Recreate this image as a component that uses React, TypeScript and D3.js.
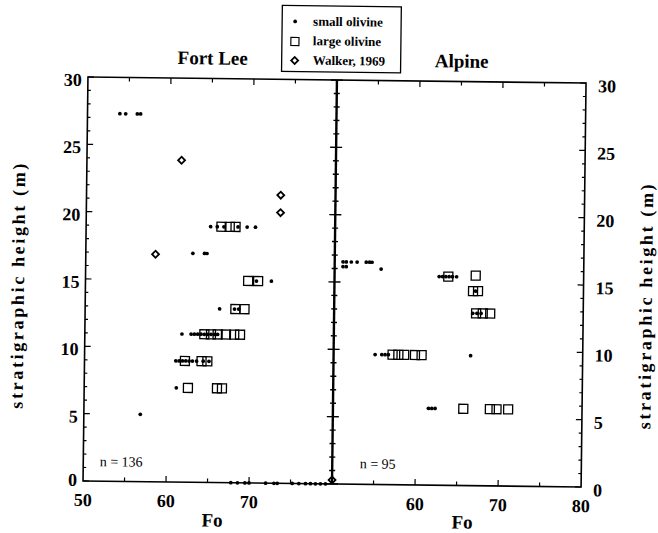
import React from "react";
import * as d3 from "d3";

// ---- data (Fo, stratigraphic height m) ----
const fortLeeSmall: [number, number][] = [
  [53.9, 27.3], [54.6, 27.3], [56.0, 27.3], [56.4, 27.3],
  [65.0, 19.0], [65.8, 19.0], [66.6, 19.0], [68.3, 19.0], [69.4, 19.0], [70.4, 19.0],
  [62.9, 17.0], [64.3, 17.0], [64.6, 17.0],
  [70.6, 15.0], [72.4, 15.0],
  [66.2, 12.9], [68.0, 12.9], [68.5, 12.9],
  [61.7, 11.0], [62.8, 11.0], [63.2, 11.0], [63.6, 11.0], [64.0, 11.0], [64.4, 11.0],
  [64.8, 11.0], [65.2, 11.0], [65.6, 11.0], [66.0, 11.0],
  [61.0, 9.0], [61.4, 9.0], [61.8, 9.0], [62.2, 9.0], [62.6, 9.0], [63.0, 9.0],
  [63.5, 9.0], [64.3, 9.0], [65.0, 9.0],
  [61.1, 7.0],
  [56.8, 5.0],
  [67.8, 0], [68.6, 0], [69.5, 0], [70.0, 0], [72.0, 0], [73.0, 0], [73.4, 0],
  [75.2, 0], [76.0, 0], [76.8, 0], [77.4, 0], [78.0, 0], [78.6, 0], [79.2, 0],
];
const fortLeeLarge: [number, number][] = [
  [66.3, 19.0], [67.3, 19.0], [68.0, 19.0],
  [69.6, 15.0], [70.8, 15.0],
  [68.1, 12.9], [69.2, 12.9],
  [64.4, 11.0], [65.2, 11.0], [66.0, 11.0], [67.0, 11.0], [68.0, 11.0], [68.7, 11.0],
  [62.1, 9.0], [64.1, 9.0], [64.8, 9.0],
  [62.5, 7.0], [66.0, 7.0], [66.6, 7.0],
];
const walker1969: [number, number][] = [
  [61.4, 23.9], [73.4, 21.4], [73.4, 20.1], [58.4, 16.9], [80.0, 0.3],
];
const alpineSmall: [number, number][] = [
  [51.0, 16.5], [51.4, 16.5], [52.0, 16.5], [52.7, 16.5], [53.8, 16.5], [54.2, 16.5], [54.5, 16.5],
  [51.0, 16.15], [51.4, 16.15], [55.6, 16.0],
  [62.6, 15.5], [63.0, 15.5], [63.4, 15.5], [63.8, 15.5], [64.2, 15.5], [64.7, 15.5],
  [67.0, 14.45],
  [66.7, 12.8], [67.2, 12.8], [67.7, 12.8],
  [55.0, 9.65], [55.8, 9.65], [56.2, 9.65], [56.6, 9.65], [66.5, 9.65],
  [61.5, 5.7], [61.9, 5.7], [62.3, 5.7],
];
const alpineLarge: [number, number][] = [
  [63.7, 15.5], [67.0, 15.6],
  [66.7, 14.45], [67.3, 14.45],
  [67.1, 12.8], [67.9, 12.8], [68.8, 12.8],
  [57.1, 9.65], [57.8, 9.65], [58.5, 9.65], [59.8, 9.65], [60.6, 9.65],
  [65.7, 5.7], [68.9, 5.7], [69.7, 5.7], [71.1, 5.7],
];

const panelTitles = ["Fort Lee", "Alpine"];
const sampleCounts = ["n = 136", "n = 95"];
const leftXTickLabels = [50, 60, 70];
const rightXTickLabels = [60, 70, 80];
const yTickLabels = [0, 5, 10, 15, 20, 25, 30];
const legendLabels = ["small olivine", "large olivine", "Walker, 1969"];
const yAxisTitle = "stratigraphic height (m)";

const SERIF = "'Liberation Serif', 'Times New Roman', serif";

export default function App() {
  const L = 85.5, M = 334.5, R = 583.6, T = 80, B = 484;
  const xL = d3.scaleLinear().domain([50, 80]).range([L, M]);
  const xR = d3.scaleLinear().domain([50, 80]).range([M, R]);
  const y = d3.scaleLinear().domain([0, 30]).range([B, T]);

  const sq = d3.symbol().type(d3.symbolSquare).size(81)()!;
  const dia = d3.symbol().type(d3.symbolSquare).size(24)()!;
  const dot = d3.symbol().type(d3.symbolCircle).size(11)()!;

  const yMinor = d3.range(0, 31);
  const xMinor = [55, 60, 65, 70, 75];

  const stroke = "#000";

  const dots = (data: [number, number][], x: d3.ScaleLinear<number, number>, k: string) =>
    data.map((d, i) => (
      <path key={k + i} d={dot} transform={`translate(${x(d[0])},${y(d[1])})`} fill="#000" />
    ));
  const squares = (data: [number, number][], x: d3.ScaleLinear<number, number>, k: string) =>
    data.map((d, i) => (
      <path key={k + i} d={sq} transform={`translate(${x(d[0])},${y(d[1])})`} fill="none" stroke={stroke} strokeWidth={1.3} />
    ));
  const diamonds = (data: [number, number][], x: d3.ScaleLinear<number, number>, k: string) =>
    data.map((d, i) => (
      <path key={k + i} d={dia} transform={`translate(${x(d[0])},${y(d[1])}) rotate(45)`} fill="none" stroke={stroke} strokeWidth={1.8} />
    ));

  return (
    <svg width={658} height={533} style={{ position: "absolute", left: 0, top: 0, background: "#fff" }}>
      <rect x={0} y={0} width={658} height={533} fill="#fff" />
      <g transform="rotate(0.7, 335, 280)">
        {/* frame */}
        <rect x={L} y={T} width={R - L} height={B - T} fill="none" stroke={stroke} strokeWidth={1.6} />
        <line x1={M} x2={M} y1={T} y2={B} stroke={stroke} strokeWidth={2.4} />

        {/* y ticks */}
        {yMinor.map((v) => {
          const len = v % 5 === 0 ? 6 : 3;
          const yy = y(v);
          return (
            <g key={"yt" + v}>
              <line x1={L} x2={L + len} y1={yy} y2={yy} stroke={stroke} strokeWidth={1.2} />
              <line x1={R} x2={R - len} y1={yy} y2={yy} stroke={stroke} strokeWidth={1.2} />
              <line x1={M - len} x2={M + len} y1={yy} y2={yy} stroke={stroke} strokeWidth={1.4} />
            </g>
          );
        })}
        {/* x ticks */}
        {[xL, xR].map((sx, p) =>
          xMinor.map((v) => {
            const len = v % 10 === 0 ? 6 : 4;
            return (
              <g key={"xt" + p + v}>
                <line x1={sx(v)} x2={sx(v)} y1={B} y2={B - len} stroke={stroke} strokeWidth={1.2} />
                <line x1={sx(v)} x2={sx(v)} y1={T} y2={T + len} stroke={stroke} strokeWidth={1.2} />
              </g>
            );
          })
        )}

        {/* y tick labels */}
        {yTickLabels.map((v) => (
          <g key={"yl" + v} fontFamily={SERIF} fontWeight="bold" fontSize={18}>
            <text x={L - 6} y={y(v) + (v === 0 ? 5 : 9)} textAnchor="end">{v}</text>
            <text x={R + 12} y={y(v) + 9} textAnchor="start">{v}</text>
          </g>
        ))}
        {/* x tick labels */}
        {leftXTickLabels.map((v) => (
          <text key={"xl" + v} x={xL(v)} y={B + 25} textAnchor="middle" fontFamily={SERIF} fontWeight="bold" fontSize={18}>{v}</text>
        ))}
        {rightXTickLabels.map((v) => (
          <text key={"xr" + v} x={xR(v)} y={B + 25} textAnchor="middle" fontFamily={SERIF} fontWeight="bold" fontSize={18}>{v}</text>
        ))}

        {/* axis titles */}
        <text x={215} y={528} textAnchor="middle" fontFamily={SERIF} fontWeight="bold" fontSize={19}>Fo</text>
        <text x={465} y={527} textAnchor="middle" fontFamily={SERIF} fontWeight="bold" fontSize={19}>Fo</text>
        <text transform="translate(24,290) rotate(-90)" textAnchor="middle" fontFamily={SERIF} fontWeight="bold" fontSize={18} textLength={245} lengthAdjust="spacing">{yAxisTitle}</text>
        <text transform="translate(652,303) rotate(-90)" textAnchor="middle" fontFamily={SERIF} fontWeight="bold" fontSize={18} textLength={245} lengthAdjust="spacing">{yAxisTitle}</text>

        {/* panel titles */}
        <text x={210} y={66} textAnchor="middle" fontFamily={SERIF} fontWeight="bold" fontSize={19}>{panelTitles[0]}</text>
        <text x={459} y={66} textAnchor="middle" fontFamily={SERIF} fontWeight="bold" fontSize={19}>{panelTitles[1]}</text>

        {/* n labels */}
        <text x={102} y={469} fontFamily={SERIF} fontSize={14}>{sampleCounts[0]}</text>
        <text x={362} y={468} fontFamily={SERIF} fontSize={14}>{sampleCounts[1]}</text>

        {/* data */}
        {squares(fortLeeLarge, xL, "fl")}
        {dots(fortLeeSmall, xL, "fs")}
        {diamonds(walker1969, xL, "wk")}
        {squares(alpineLarge, xR, "al")}
        {dots(alpineSmall, xR, "as")}

        {/* legend */}
        <rect x={279} y={6} width={119} height={66} fill="#fff" stroke={stroke} strokeWidth={1.3} />
        <path d={dot} transform="translate(292,22)" fill="#000" />
        <path d={sq} transform="translate(292,42) scale(0.9)" fill="none" stroke={stroke} strokeWidth={1.3} />
        <path d={dia} transform="translate(292,61) rotate(45)" fill="none" stroke={stroke} strokeWidth={1.8} />
        {legendLabels.map((t, i) => (
          <text key={t} x={310} y={26 + i * 19.5} fontFamily={SERIF} fontWeight="bold" fontSize={13}>{t}</text>
        ))}
      </g>
    </svg>
  );
}
